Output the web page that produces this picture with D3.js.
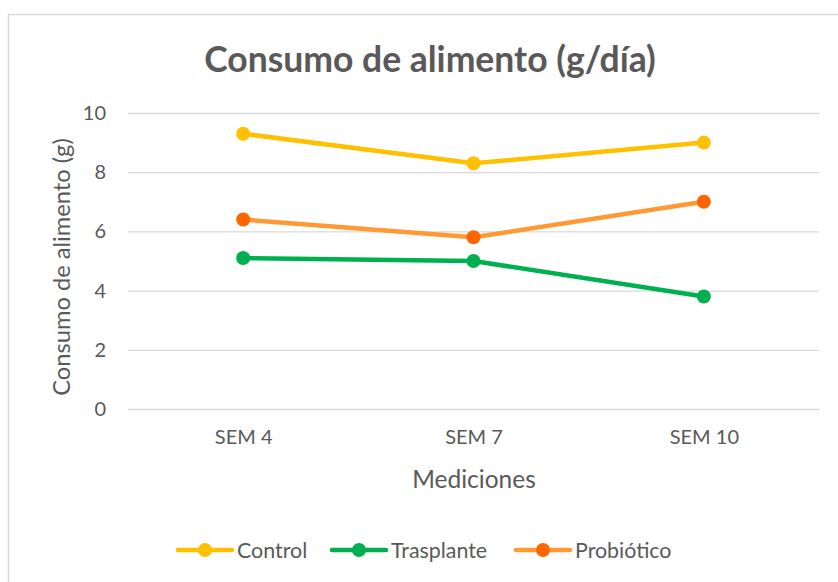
<!DOCTYPE html>
<html>
<head>
<meta charset="utf-8">
<script src="https://d3js.org/d3.v7.min.js"></script>
<style>
  body { margin: 0; background: #fff; }
  svg { display: block; font-family: Lato, "Open Sans", sans-serif; }
</style>
</head>
<body>
<svg width="838" height="582"></svg>
<script>
"use strict";

var categories = ["SEM 4", "SEM 7", "SEM 10"];
var seriesNames = ["Control", "Trasplante", "Probiótico"];
var control = [9.3, 8.3, 9.0];
var trasplante = [5.1, 5.0, 3.8];
var probiotico = [6.4, 5.8, 7.0];
var yTicks = [0, 2, 4, 6, 8, 10];

var lineColors = ["#FFC000", "#00B050", "#FF9933"];
var markerColors = ["#FFC000", "#00B050", "#FF6600"];
var values = [control, trasplante, probiotico];

var svg = d3.select("svg");

// chart frame
svg.append("rect")
    .attr("x", 8.5).attr("y", 14.5)
    .attr("width", 840).attr("height", 580)
    .attr("fill", "#fff").attr("stroke", "#d9d9d9").attr("stroke-width", 1.5);

var plotLeft = 128, plotRight = 819, plotTop = 113, plotBottom = 409;

var x = d3.scalePoint().domain(categories).range([plotLeft, plotRight]).padding(0.5);
var y = d3.scaleLinear().domain([0, 10]).range([plotBottom, plotTop]);

// gridlines
svg.append("g").selectAll("line")
    .data(yTicks).enter().append("line")
    .attr("x1", plotLeft).attr("x2", plotRight)
    .attr("y1", d => y(d) + 0.5).attr("y2", d => y(d) + 0.5)
    .attr("stroke", "#d9d9d9").attr("stroke-width", 1.3);

// y axis
var yAxis = svg.append("g")
    .attr("transform", "translate(" + (plotLeft - 22) + ",0)")
    .call(d3.axisLeft(y).tickValues(yTicks).tickSize(0).tickPadding(0));
yAxis.select(".domain").remove();
yAxis.selectAll("text")
    .attr("font-size", 20).attr("fill", "#595959")
    .attr("font-family", "Lato, 'Open Sans', sans-serif");

// x axis
var xAxis = svg.append("g")
    .attr("transform", "translate(0," + (plotBottom + 21) + ")")
    .call(d3.axisBottom(x).tickSize(0).tickPadding(0));
xAxis.select(".domain").remove();
xAxis.selectAll("text")
    .attr("font-size", 20).attr("fill", "#595959")
    .attr("font-family", "Lato, 'Open Sans', sans-serif");

// titles
svg.append("text")
    .attr("x", 430).attr("y", 72)
    .attr("text-anchor", "middle")
    .attr("font-size", 35.5).attr("font-weight", "bold").attr("fill", "#595959")
    .text("Consumo de alimento (g/día)");

svg.append("text")
    .attr("x", 474).attr("y", 488)
    .attr("text-anchor", "middle")
    .attr("font-size", 24.5).attr("fill", "#595959")
    .text("Mediciones");

svg.append("text")
    .attr("transform", "translate(70,267) rotate(-90)")
    .attr("text-anchor", "middle")
    .attr("font-size", 23.7).attr("fill", "#595959")
    .text("Consumo de alimento (g)");

// series
var line = d3.line().x((d, i) => x(categories[i])).y(d => y(d));

values.forEach(function (vals, s) {
    var g = svg.append("g");
    g.append("path")
        .attr("d", line(vals))
        .attr("fill", "none")
        .attr("stroke", lineColors[s])
        .attr("stroke-width", 4.5)
        .attr("stroke-linejoin", "round")
        .attr("stroke-linecap", "round");
    g.selectAll("circle")
        .data(vals).enter().append("circle")
        .attr("cx", (d, i) => x(categories[i]))
        .attr("cy", d => y(d))
        .attr("r", 7)
        .attr("fill", markerColors[s]);
});

// legend
var legendX = [178, 332, 516];
var legend = svg.append("g");
seriesNames.forEach(function (name, s) {
    var lg = legend.append("g").attr("transform", "translate(" + legendX[s] + ",550)");
    lg.append("line")
        .attr("x1", 0).attr("x2", 54)
        .attr("stroke", lineColors[s]).attr("stroke-width", 4.5)
        .attr("stroke-linecap", "round");
    lg.append("circle").attr("cx", 27).attr("r", 7).attr("fill", markerColors[s]);
    lg.append("text")
        .attr("x", 59).attr("y", 7.5)
        .attr("font-size", 21.4).attr("fill", "#595959")
        .text(name);
});
</script>
</body>
</html>
